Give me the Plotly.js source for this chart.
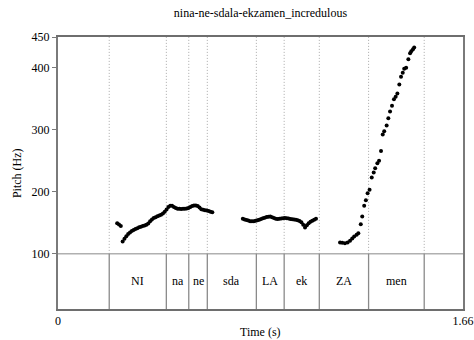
<!DOCTYPE html>
<html>
<head>
<meta charset="utf-8">
<script src="https://cdn.plot.ly/plotly-3.0.1.min.js"></script>
<style>html,body{margin:0;padding:0;background:#fff;}#chart{width:474px;height:340px;}</style>
</head>
<body>
<div id="chart"></div>
<script>
// ---- data ----
const chartTitle = "nina-ne-sdala-ekzamen_incredulous";
const yTicks = [100, 200, 300, 400, 450];
const xTickVals = [0, 1.66];
const xTickText = ["0", "1.66"];

// syllable tier boundaries (s) and labels of the intervals between them
const boundaries = [0.210, 0.444, 0.536, 0.612, 0.813, 0.927, 1.071, 1.273, 1.501];
const tierLabels = ["NI", "na", "ne", "sda", "LA", "ek", "ZA", "men"];

// pitch track, segment 1 (NI na ne)
const seg1Time = [0.2425, 0.25, 0.2575,
  0.265, 0.2725, 0.280, 0.2875, 0.295, 0.3025, 0.310, 0.3175, 0.325, 0.3325,
  0.340, 0.3475, 0.355, 0.3625, 0.370, 0.3775, 0.385, 0.3925, 0.400, 0.4075,
  0.415, 0.4225, 0.430, 0.4375, 0.445, 0.4525, 0.460, 0.4675, 0.475, 0.4825,
  0.490, 0.4975, 0.505, 0.5125, 0.520, 0.5275, 0.535, 0.5425, 0.550, 0.5575,
  0.565, 0.5725, 0.580, 0.5875, 0.595, 0.6025, 0.610, 0.6175, 0.625, 0.6325];
const seg1Hz = [149.5, 147.2, 145.0,
  120.0, 124.5, 128.5, 132.0, 134.5, 137.0, 138.5, 140.0, 141.5, 142.8,
  143.6, 144.8, 145.8, 147.0, 148.8, 152.5, 155.5, 157.8, 159.2, 160.6,
  161.8, 163.2, 165.0, 167.8, 171.5, 175.5, 177.5, 177.6, 175.5, 174.0,
  173.0, 172.6, 172.5, 172.6, 172.8, 173.2, 174.0, 175.8, 177.3, 178.0,
  178.2, 177.4, 175.0, 172.0, 171.0, 170.5, 169.8, 169.0, 168.0, 167.0];

// segment 2 (sda LA ek)
const seg2Time = [0.7575, 0.765, 0.7725, 0.780, 0.7875, 0.795, 0.8025, 0.810,
  0.8175, 0.825, 0.8325, 0.840, 0.8475, 0.855, 0.8625, 0.870, 0.8775, 0.885,
  0.8925, 0.900, 0.9075, 0.915, 0.9225, 0.930, 0.9375, 0.945, 0.9525, 0.960,
  0.9675, 0.975, 0.9825, 0.990, 0.9975, 1.005, 1.0125, 1.020, 1.0275, 1.035,
  1.0425, 1.050, 1.0575];
const seg2Hz = [156.5, 155.6, 154.8, 153.8, 152.8, 152.6, 152.8, 153.5,
  154.3, 155.2, 156.3, 157.5, 158.4, 159.3, 160.0, 160.3, 159.2, 157.8,
  156.8, 156.4, 156.5, 157.0, 157.6, 157.7, 157.6, 157.2, 156.4, 155.8,
  155.3, 154.9, 154.3, 153.0, 151.0, 147.0, 142.5, 146.0, 149.5, 151.8,
  153.5, 155.0, 156.5];

// segment 3 (ZA men)
const seg3Time = [1.156, 1.165, 1.176, 1.187, 1.197, 1.206, 1.214, 1.224, 1.231,
  1.241, 1.247, 1.255, 1.262, 1.269, 1.277, 1.286, 1.294, 1.300, 1.309, 1.316,
  1.324, 1.331, 1.337, 1.347, 1.354, 1.361, 1.369, 1.377, 1.384, 1.391, 1.399,
  1.406, 1.413, 1.419, 1.427, 1.436, 1.443, 1.448, 1.455, 1.460];
const seg3Hz = [118.4, 118.0, 117.3, 118.4, 121.0, 124.9, 128.1, 130.7, 133.4,
  147.9, 160.4, 177.5, 186.7, 198.0, 203.3, 223.3, 231.4, 238.3, 246.4, 250.1,
  266.2, 292.7, 298.0, 307.2, 319.0, 329.7, 338.9, 349.7, 353.4, 358.9, 373.4,
  385.7, 392.1, 398.6, 400.2, 414.2, 423.9, 427.1, 430.4, 433.1];

// ---- chart ----
const Y_TOP = 450, Y_TIER = 100, Y_BOT = 11;
const serif = "Liberation Serif";

const shapes = [];
boundaries.forEach(b => {
  shapes.push({type: "line", xref: "x", yref: "y", x0: b, x1: b, y0: Y_TIER, y1: Y_TOP,
    line: {color: "#a8a8a8", width: 1, dash: "1px,2px"}, layer: "below"});
  shapes.push({type: "line", xref: "x", yref: "y", x0: b, x1: b, y0: Y_BOT, y1: Y_TIER,
    line: {color: "#8a8a8a", width: 1.3}, layer: "below"});
});
shapes.push({type: "line", xref: "paper", yref: "y", x0: 0, x1: 1, y0: Y_TIER, y1: Y_TIER,
  line: {color: "#b0b0b0", width: 1.5}, layer: "below"});

const annotations = tierLabels.map((lab, i) => ({
  x: (boundaries[i] + boundaries[i + 1]) / 2, y: (Y_TIER + Y_BOT) / 2,
  xref: "x", yref: "y", text: lab, showarrow: false,
  font: {family: serif, size: 12, color: "#000"}
}));
annotations.push({text: "Time (s)", xref: "paper", yref: "paper", x: 0.5, y: -0.085,
  xanchor: "center", yanchor: "middle", showarrow: false,
  font: {family: serif, size: 12, color: "#000"}});
annotations.push({text: "Pitch (Hz)", xref: "paper", yref: "paper", x: -0.101, y: 0.5,
  xanchor: "center", yanchor: "middle", textangle: -90, showarrow: false,
  font: {family: serif, size: 12, color: "#000"}});

const marker = {color: "#000", size: 4};
const traces = [
  {x: seg1Time, y: seg1Hz, mode: "markers", type: "scatter", marker: marker, hoverinfo: "x+y"},
  {x: seg2Time, y: seg2Hz, mode: "markers", type: "scatter", marker: marker, hoverinfo: "x+y"},
  {x: seg3Time, y: seg3Hz, mode: "markers", type: "scatter", marker: marker, hoverinfo: "x+y"}
];

const layout = {
  width: 474, height: 340,
  margin: {l: 58, r: 11, t: 37, b: 31, pad: 0},
  paper_bgcolor: "#fff", plot_bgcolor: "#fff",
  showlegend: false,
  font: {family: serif, size: 12, color: "#000"},
  title: {text: chartTitle, x: 0.5, xref: "paper", y: 1 - 13 / 340, yref: "container",
    xanchor: "center", yanchor: "middle", font: {family: serif, size: 12, color: "#000"}},
  xaxis: {range: [0, 1.66], tickvals: xTickVals, ticktext: xTickText, ticks: "",
    showgrid: false, zeroline: false, showline: true, mirror: true,
    linecolor: "#6e6e6e", linewidth: 2, fixedrange: true,
    tickfont: {family: serif, size: 12, color: "#000"}, automargin: false},
  yaxis: {range: [Y_BOT, Y_TOP], tickvals: yTicks, ticks: "outside", ticklen: 4,
    tickcolor: "#7a7a7a", tickwidth: 1, showgrid: false, zeroline: false,
    showline: true, mirror: true, linecolor: "#7a7a7a", linewidth: 2, fixedrange: true,
    tickfont: {family: serif, size: 12, color: "#000"}, automargin: false},
  shapes: shapes,
  annotations: annotations
};

Plotly.newPlot("chart", traces, layout, {staticPlot: true, displayModeBar: false});
</script>
</body>
</html>
